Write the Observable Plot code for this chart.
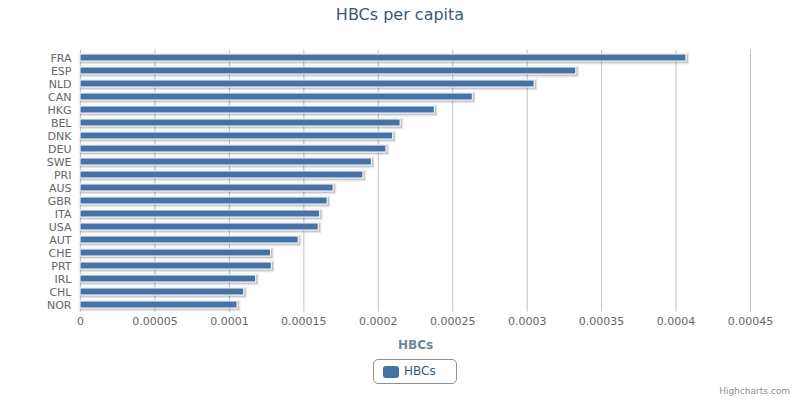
<!DOCTYPE html>
<html>
<head>
<meta charset="utf-8">
<script src="https://cdn.jsdelivr.net/npm/d3@7"></script>
<script src="https://cdn.jsdelivr.net/npm/@observablehq/plot@0.6"></script>
<style>
  html, body { margin: 0; padding: 0; background: #fff; }
  #wrap { position: relative; width: 800px; height: 400px; font-family: "DejaVu Sans", Verdana, sans-serif; overflow: hidden; }
  #title { height: 30px; line-height: 30px; text-align: center; font-size: 16px; color: #3E576F; }
  #legend { position: absolute; left: 373px; top: 359px; width: 82px; height: 23px; border: 1px solid #909090; border-radius: 5px; box-sizing: content-box; }
  #legend .sym { position: absolute; left: 9px; top: 6px; width: 16px; height: 12px; background: #4572A7; border-radius: 3px; }
  #legend .lbl { position: absolute; left: 30px; top: 4px; font-size: 12px; color: #3E576F; line-height: 15px; }
  #credits { position: absolute; right: 10px; top: 386px; font-size: 9px; color: #909090; }
</style>
</head>
<body>
<div id="wrap">
  <div id="title">HBCs per capita</div>
  <div id="chart"></div>
  <div id="legend"><div class="sym"></div><div class="lbl">HBCs</div></div>
  <div id="credits">Highcharts.com</div>
</div>
<script>
const countries = ["FRA","ESP","NLD","CAN","HKG","BEL","DNK","DEU","SWE","PRI","AUS","GBR","ITA","USA","AUT","CHE","PRT","IRL","CHL","NOR"];
const values = [0.000407, 0.000333, 0.000305, 0.0002635, 0.000238, 0.000215, 0.00021, 0.0002055, 0.0001957, 0.00019, 0.00017, 0.000166, 0.000161, 0.00016, 0.0001465, 0.000128, 0.0001285, 0.000118, 0.00011, 0.0001055];
const tickValues = [0, 0.00005, 0.0001, 0.00015, 0.0002, 0.00025, 0.0003, 0.00035, 0.0004, 0.00045];
const tickLabels = ["0", "0.00005", "0.0001", "0.00015", "0.0002", "0.00025", "0.0003", "0.00035", "0.0004", "0.00045"];
const seriesName = "HBCs";

const data = countries.map((c, i) => ({country: c, value: values[i]}));
const labelOf = new Map(tickValues.map((v, i) => [v, tickLabels[i]]));

const chart = Plot.plot({
  width: 800,
  height: 328,
  marginTop: 19.5,
  marginBottom: 46.5,
  marginLeft: 80,
  marginRight: 50,
  style: { fontFamily: "DejaVu Sans, Verdana, sans-serif", fontSize: "11px", color: "#666", background: "#fff", overflow: "visible" },
  x: { domain: [0, 0.00045] },
  y: { domain: countries, paddingInner: 0.47, paddingOuter: 0.235 },
  marks: [
    Plot.gridX(tickValues, { stroke: "#C0C0C0", strokeOpacity: 1 }),
    Plot.axisX(tickValues, { tickSize: 0, tickPadding: 5, tickFormat: d => labelOf.get(d), label: null, fill: "#666" }),
    Plot.axisY({ tickSize: 0, tickPadding: 9, label: null, fill: "#666" }),
    Plot.ruleX([0], { stroke: "#C0D0E0" }),
    Plot.barX(data, { y: "country", x: "value", dx: 1, dy: 1, fill: "none", stroke: "#000", strokeOpacity: 0.05, strokeWidth: 5 }),
    Plot.barX(data, { y: "country", x: "value", dx: 1, dy: 1, fill: "none", stroke: "#000", strokeOpacity: 0.1, strokeWidth: 3 }),
    Plot.barX(data, { y: "country", x: "value", dx: 1, dy: 1, fill: "none", stroke: "#000", strokeOpacity: 0.15, strokeWidth: 1 }),
    Plot.barX(data, { y: "country", x: "value", fill: "#4572A7", stroke: "#fff", strokeWidth: 1 }),
    Plot.text([seriesName], { frameAnchor: "bottom", lineAnchor: "middle", dy: 33.5, fill: "#6D869F", fontWeight: "bold", fontSize: 12 })
  ]
});
document.getElementById("chart").appendChild(chart);
</script>
</body>
</html>
